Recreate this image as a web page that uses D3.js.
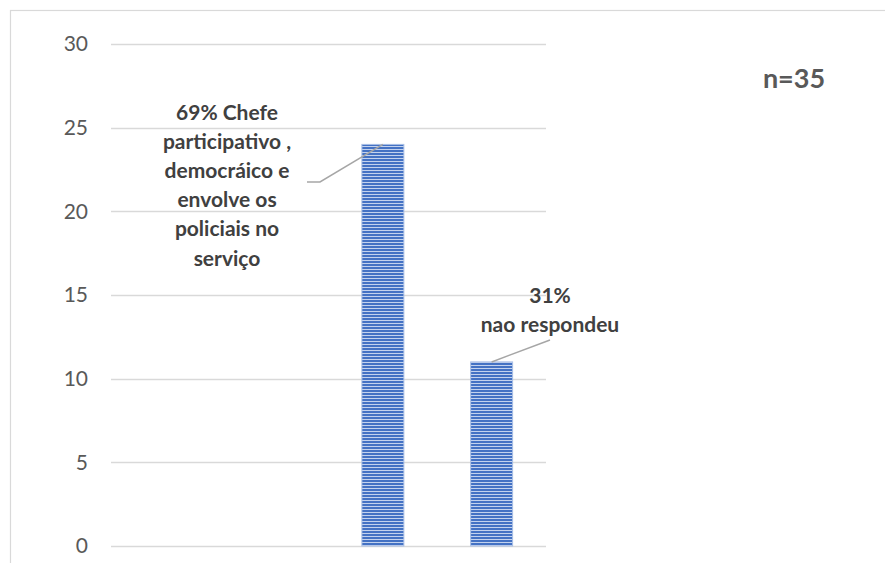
<!DOCTYPE html>
<html>
<head>
<meta charset="utf-8">
<script src="https://cdn.jsdelivr.net/npm/d3@7"></script>
<style>
  html, body { margin: 0; padding: 0; background: #ffffff; }
  svg { display: block; }
</style>
</head>
<body>
<svg id="chart" width="885" height="563"></svg>
<script>
// Response counts per category (n = 35); the first two categories had no answers
const categories = ["autoritario", "liberal", "participativo", "nao respondeu"];
const values = [0, 0, 24, 11];
const yTicks = [0, 5, 10, 15, 20, 25, 30];

// Callout texts, one array per labelled bar
const labelParticipativo = ["69% Chefe", "participativo ,", "democráico e", "envolve os", "policiais no", "serviço"];
const labelNaoRespondeu = ["31%", "nao respondeu"];
const sampleNote = "n=35";

const svg = d3.select("#chart");
const W = 885, H = 563;
const plot = { left: 111, right: 546, top: 44, bottom: 546 };

// Chart area frame
svg.append("rect")
  .attr("x", 10.5).attr("y", 10.5)
  .attr("width", W).attr("height", H)
  .attr("fill", "#ffffff")
  .attr("stroke", "#d9d9d9").attr("stroke-width", 1.2);

// Striped fill used by the bars
const defs = svg.append("defs");
const pat = defs.append("pattern")
  .attr("id", "stripes")
  .attr("patternUnits", "userSpaceOnUse")
  .attr("width", 8).attr("height", 3);
pat.append("rect").attr("width", 8).attr("height", 3).attr("fill", "#c3d2ee");
pat.append("rect").attr("width", 8).attr("height", 2).attr("fill", "#4472c4");

const x = d3.scaleBand().domain(categories).range([plot.left, plot.right]).padding(0);
const y = d3.scaleLinear().domain([0, 30]).range([plot.bottom, plot.top]);
const barW = x.step() * 0.386;
const cx = c => x(c) + x.bandwidth() / 2;

// Horizontal gridlines
svg.append("g").selectAll("line")
  .data(yTicks).join("line")
  .attr("x1", plot.left).attr("x2", plot.right)
  .attr("y1", d => Math.round(y(d)) + 0.5).attr("y2", d => Math.round(y(d)) + 0.5)
  .attr("stroke", "#d9d9d9").attr("stroke-width", 1.5);

// Y axis built with d3.axisLeft, domain line and ticks hidden
const yAxis = svg.append("g")
  .attr("transform", `translate(${plot.left},0)`)
  .call(d3.axisLeft(y).tickValues(yTicks).tickSize(0).tickPadding(23));
yAxis.select(".domain").remove();
yAxis.selectAll("text")
  .attr("fill", "#595959")
  .style("font-family", "Lato, 'Open Sans', sans-serif")
  .style("font-size", "21px");

// Bars
svg.append("g").selectAll("rect")
  .data(categories.map((c, i) => ({ c, v: values[i] })).filter(d => d.v > 0))
  .join("rect")
  .attr("x", d => cx(d.c) - barW / 2)
  .attr("y", d => y(d.v))
  .attr("width", barW)
  .attr("height", d => y(0) - y(d.v))
  .attr("fill", "url(#stripes)")
  .attr("stroke", "#a9bfe6").attr("stroke-width", 1);

// Leader lines from callouts to bar tops
const leader = d3.line();
const topP = [cx("participativo"), y(values[2])];
const topN = [cx("nao respondeu"), y(values[3])];
svg.append("path")
  .attr("d", leader([[307, 182], [320, 182], topP]))
  .attr("fill", "none").attr("stroke", "#a6a6a6").attr("stroke-width", 1.5);
svg.append("path")
  .attr("d", leader([[550, 340], topN]))
  .attr("fill", "none").attr("stroke", "#a6a6a6").attr("stroke-width", 1.5);

// Callout text blocks
function callout(lines, xc, y0, step) {
  svg.append("g").selectAll("text")
    .data(lines).join("text")
    .attr("x", xc)
    .attr("y", (d, i) => y0 + i * step)
    .attr("text-anchor", "middle")
    .attr("dominant-baseline", "central")
    .attr("fill", "#404040")
    .style("font-family", "Lato, 'Open Sans', sans-serif")
    .style("font-weight", "bold")
    .style("font-size", "21px")
    .text(d => d);
}
callout(labelParticipativo, 227, 111, 29.2);
callout(labelNaoRespondeu, 550, 294, 29);

// Sample size note
svg.append("text")
  .attr("x", 794).attr("y", 77)
  .attr("text-anchor", "middle")
  .attr("dominant-baseline", "central")
  .attr("fill", "#595959")
  .style("font-family", "Lato, 'Open Sans', sans-serif")
  .style("font-weight", "bold")
  .style("font-size", "27px")
  .text(sampleNote);
</script>
</body>
</html>
